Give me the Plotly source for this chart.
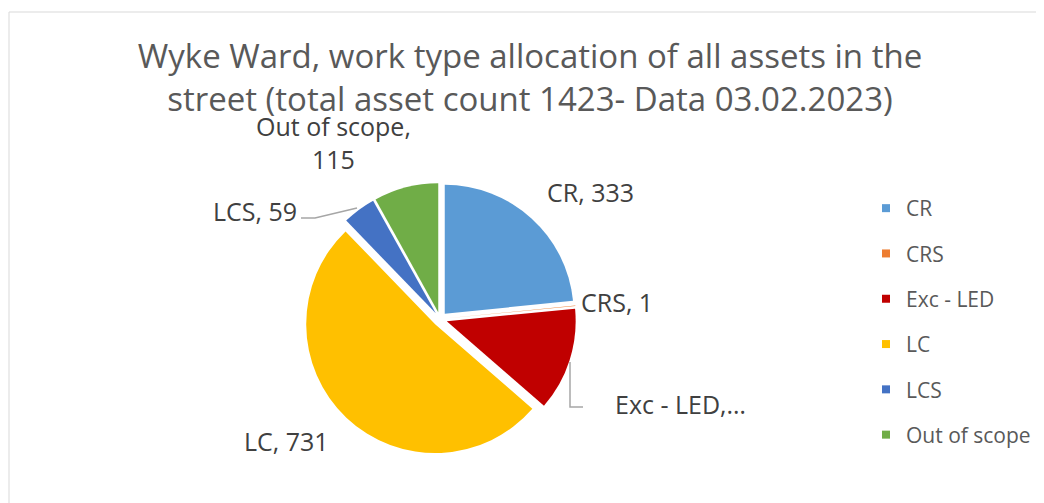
import plotly.graph_objects as go

categories = ["CR", "CRS", "Exc - LED", "LC", "LCS", "Out of scope"]
values = [333, 1, 184, 731, 59, 115]
colors = ["#5B9BD5", "#ED7D31", "#C00000", "#FFC000", "#4472C4", "#70AD47"]
label_texts = ["CR, 333", "CRS, 1", "Exc - LED,…", "LC, 731", "LCS, 59", "Out of scope,<br>115"]
title_text = "Wyke Ward, work type allocation of all assets in the<br>street (total asset count 1423- Data 03.02.2023)"

W, H = 1044, 503
OFF = 8  # page body margin
FONT = "Open Sans, sans-serif"

def px(x):
    return (x - OFF) / W

def py(y):
    return 1 - (y - OFF) / H

fig = go.Figure()

fig.add_trace(go.Pie(
    labels=categories,
    values=values,
    marker=dict(colors=colors, line=dict(width=0)),
    sort=False,
    direction="clockwise",
    rotation=0,
    pull=[0.055] * len(values),
    textinfo="none",
    showlegend=False,
    domain=dict(x=[px(304), px(576)], y=[py(455), py(183)]),
    hoverinfo="label+value",
))

# legend entries (separate traces to reproduce generous item spacing)
for i, (c, col) in enumerate(zip(categories, colors)):
    fig.add_trace(go.Scatter(
        x=[None], y=[None], mode="markers",
        marker=dict(symbol="square", size=8, color=col),
        name=c, legendgroup=f"g{i}", showlegend=True,
    ))

# data label positions (centres, pixels)
label_pos = [(590, 192), (617, 302), (680, 404), (286, 441), (255, 211), (333, 142)]
annotations = []
for t, (x, y) in zip(label_texts, label_pos):
    annotations.append(dict(
        x=px(x), y=py(y), xref="paper", yref="paper", text=t, showarrow=False,
        xanchor="center", yanchor="middle",
        font=dict(family=FONT, size=25, color="#404040"),
    ))

shapes = [
    dict(type="rect", xref="paper", yref="paper", x0=px(9), x1=px(1070), y0=py(540), y1=py(12),
         line=dict(color="#D9D9D9", width=1), fillcolor="rgba(0,0,0,0)"),
    # leader lines
    dict(type="path", xref="paper", yref="paper",
         path=f"M {px(301)} {py(218)} L {px(315)} {py(218)} L {px(357)} {py(208)}",
         line=dict(color="#A6A6A6", width=1.5)),
    dict(type="path", xref="paper", yref="paper",
         path=f"M {px(570)} {py(362)} L {px(570)} {py(407)} L {px(583)} {py(407)}",
         line=dict(color="#A6A6A6", width=1.5)),
]

fig.update_layout(
    width=W, height=H,
    margin=dict(l=0, r=0, t=0, b=0),
    paper_bgcolor="white",
    plot_bgcolor="white",
    title=dict(text=title_text, x=px(530), xanchor="center", y=py(68), yanchor="top",
               font=dict(family=FONT, size=33, color="#595959")),
    xaxis=dict(visible=False),
    yaxis=dict(visible=False),
    legend=dict(x=px(866), xanchor="left", y=py(188), yanchor="top",
                traceorder="grouped", tracegroupgap=15,
                font=dict(family=FONT, size=21, color="#595959"),
                bgcolor="rgba(0,0,0,0)"),
    annotations=annotations,
    shapes=shapes,
)

fig.write_html("out.html")
